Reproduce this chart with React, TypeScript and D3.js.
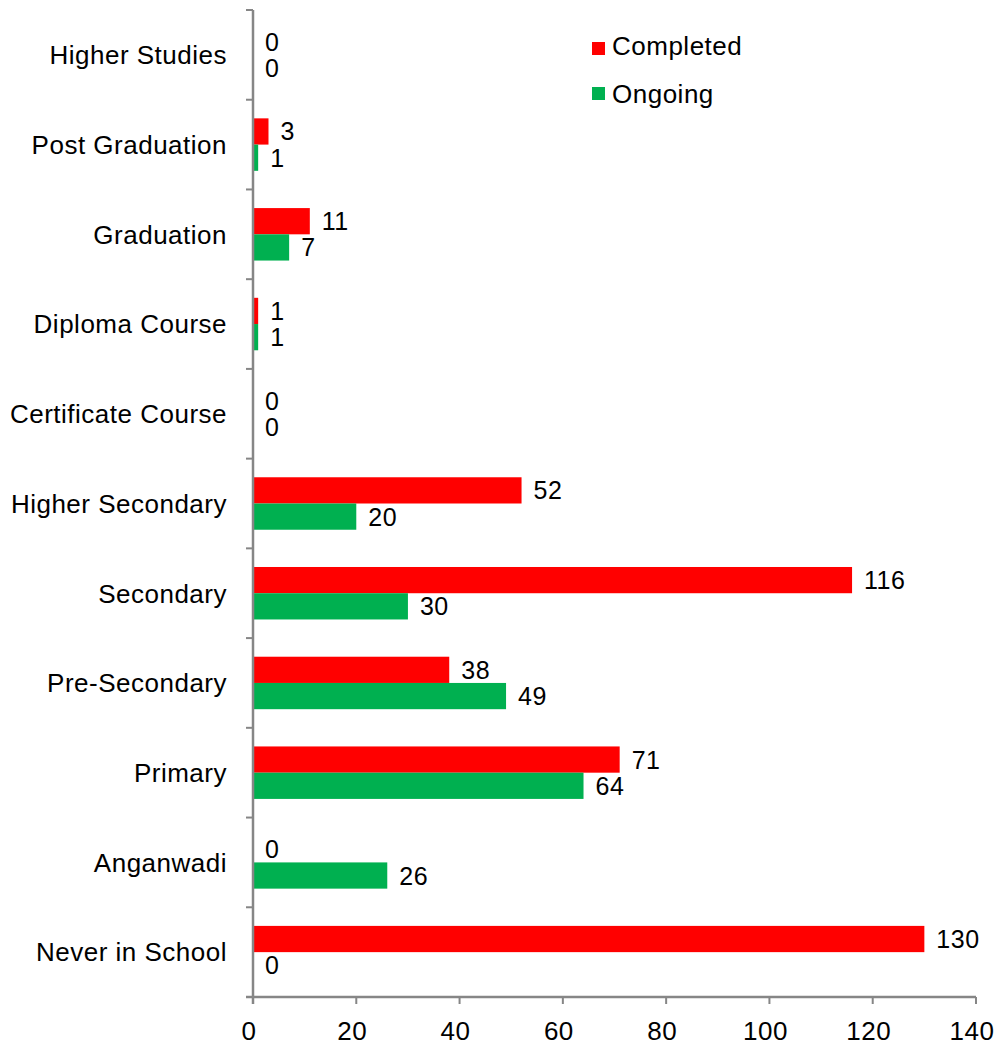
import React from "react";
import * as d3 from "d3";

const categories = [
  "Higher Studies",
  "Post Graduation",
  "Graduation",
  "Diploma Course",
  "Certificate Course",
  "Higher Secondary",
  "Secondary",
  "Pre-Secondary",
  "Primary",
  "Anganwadi",
  "Never in School",
];
const completed = [0, 3, 11, 1, 0, 52, 116, 38, 71, 0, 130];
const ongoing = [0, 1, 7, 1, 0, 20, 30, 49, 64, 26, 0];
const xTicks = [0, 20, 40, 60, 80, 100, 120, 140];
const seriesNames = ["Completed", "Ongoing"];
const seriesColors = ["#FF0000", "#00B050"];

export default function App() {
  const W = 998, H = 1055;
  const left = 253, right = 976, top = 10, bottom = 997;
  const x = d3.scaleLinear().domain([0, 140]).range([left, right]);
  const y = d3.scaleBand<string>().domain(categories).range([top, bottom]);
  const inner = d3.scaleBand<string>().domain(seriesNames).range([0, y.bandwidth()]).paddingOuter(0.71).paddingInner(0);
  const font = "Liberation Sans, Arial, sans-serif";
  const series = [completed, ongoing];
  const axisColor = "#868686";
  const fs = 26;
  const vfs = 25;
  const ls = 0.5;
  return (
    <svg width={W} height={H} style={{ display: "block", position: "absolute", left: 0, top: 0 }} fontFamily={font}>
      <rect x={0} y={0} width={W} height={H} fill="#fff" />
      {categories.map((c, i) =>
        series.map((s, k) => {
          const by = (y(c) as number) + (inner(seriesNames[k]) as number);
          const bh = inner.bandwidth();
          return (
            <g key={c + k}>
              {s[i] > 0 && (
                <rect x={x(0)} y={by} width={x(s[i]) - x(0)} height={bh} fill={seriesColors[k]} />
              )}
              <text x={x(s[i]) + 12} y={by + bh / 2} dy="0.36em" fontSize={vfs} letterSpacing={ls} fill="#000">
                {s[i]}
              </text>
            </g>
          );
        })
      )}
      {/* y axis */}
      <line x1={left} x2={left} y1={top} y2={bottom + 7} stroke={axisColor} strokeWidth={2.5} />
      {categories.concat(["__end"]).map((c, i) => {
        const yy = top + i * y.step();
        return <line key={"yt" + i} x1={left - 7} x2={left} y1={yy} y2={yy} stroke={axisColor} strokeWidth={2} />;
      })}
      {categories.map((c) => (
        <text key={"yl" + c} x={227} y={(y(c) as number) + y.bandwidth() / 2} dy="0.36em" textAnchor="end" fontSize={fs} letterSpacing={ls} fill="#000">
          {c}
        </text>
      ))}
      {/* x axis */}
      <line x1={left - 7} x2={right} y1={bottom} y2={bottom} stroke={axisColor} strokeWidth={2.5} />
      {xTicks.map((t) => (
        <g key={"xt" + t}>
          <line x1={x(t)} x2={x(t)} y1={bottom} y2={bottom + 7} stroke={axisColor} strokeWidth={2} />
          <text x={x(t) - 4} y={1031} dy="0.36em" textAnchor="middle" fontSize={fs} letterSpacing={ls} fill="#000">
            {t}
          </text>
        </g>
      ))}
      {/* legend */}
      {seriesNames.map((n, k) => (
        <g key={"lg" + n}>
          <rect x={592} y={42 + k * 45} width={13} height={13} fill={seriesColors[k]} />
          <text x={612} y={46 + k * 48} dy="0.36em" fontSize={fs} letterSpacing={ls} fill="#000">
            {n}
          </text>
        </g>
      ))}
    </svg>
  );
}
